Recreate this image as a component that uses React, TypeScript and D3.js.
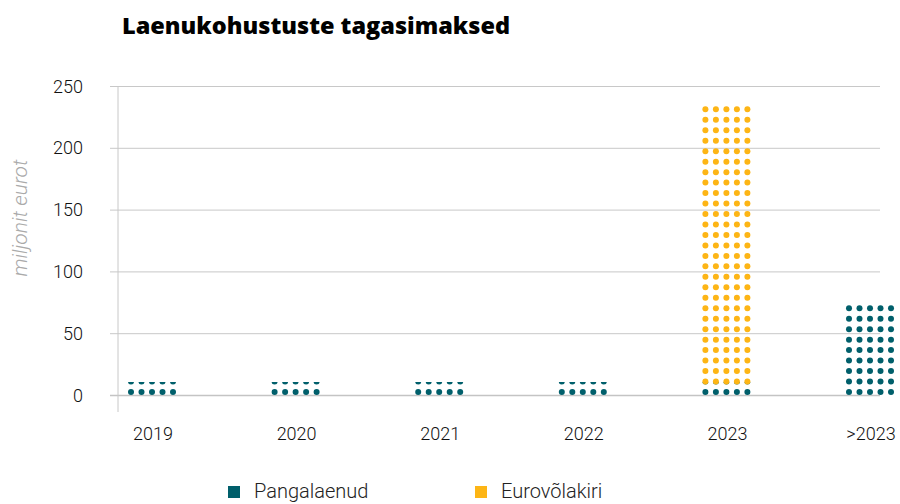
import React from "react";
import * as d3 from "d3";

const categories = ["2019", "2020", "2021", "2022", "2023", ">2023"];
const pangalaenud = [11, 11, 11, 11, 11, 76];
const eurovolakiri = [0, 0, 0, 0, 225, 0];
const yTicks = [0, 50, 100, 150, 200, 250];
const seriesNames = ["Pangalaenud", "Eurovõlakiri"];
const colors = ["#005f6b", "#fdb515"];

const W = 900;
const H = 504;

export default function App() {
  const x = d3.scalePoint<string>().domain(categories).range([152, 870]);
  const y = d3.scaleLinear().domain([0, 250]).range([395.5, 86.5]);

  const stack = d3
    .stack<any>()
    .keys(["p", "e"])(categories.map((c, i) => ({ c, p: pangalaenud[i], e: eurovolakiri[i] })));

  const r = 3;
  const dx = 10.5;
  const dy = 10.47;
  const halfW = 27;
  const base = y(0) - 3.5;

  const segs: any[] = [];
  stack.forEach((layer, si) => {
    layer.forEach((d, ci) => {
      if (d[1] - d[0] <= 0) return;
      const cx = x(categories[ci])!;
      const top = y(d[1]);
      const bottom = y(d[0]);
      const clipBottom = si > 0 ? bottom + r + 1 : bottom;
      const dots: [number, number][] = [];
      for (let k = 0; k < 60; k++) {
        const cy = base - k * dy;
        if (cy - r > clipBottom) continue;
        if (cy + r < top) break;
        for (let j = -2; j <= 2; j++) dots.push([cx + j * dx, cy]);
      }
      segs.push({ id: `clip-${si}-${ci}`, si, cx, top, clipBottom, dots });
    });
  });

  const font = "Roboto, 'Open Sans', sans-serif";

  return (
    <svg width={W} height={H} style={{ position: "absolute", left: 0, top: 0, background: "#fff" }}>
      <defs>
        {segs.map((s) => (
          <clipPath id={s.id} key={s.id}>
            <rect x={s.cx - halfW} y={s.top} width={halfW * 2} height={s.clipBottom - s.top} />
          </clipPath>
        ))}
      </defs>
      <text x={122} y={34} fontFamily="'Open Sans', sans-serif" fontWeight={800} fontSize={23.5} fill="#000">
        Laenukohustuste tagasimaksed
      </text>
      {yTicks.map((t) => (
        <g key={t}>
          <line x1={110} x2={880} y1={y(t)} y2={y(t)} stroke={t === 0 ? "#c4c4c4" : "#c8c8c8"} strokeWidth={t === 0 ? 1.5 : 1} />
          <text x={83} y={y(t) + 6} textAnchor="end" fontFamily={font} fontWeight={300} fontSize={18} fill="#111">
            {t}
          </text>
        </g>
      ))}
      <line x1={118} x2={118} y1={86} y2={412} stroke="#c8c8c8" strokeWidth={1} />
      <text
        transform={`translate(27,218) rotate(-90)`}
        textAnchor="middle"
        fontFamily={font}
        fontStyle="italic"
        fontWeight={300}
        fontSize={21}
        fill="#aaaaaa"
      >
        miljonit eurot
      </text>
      {segs.map((s) => (
        <g key={s.id} clipPath={`url(#${s.id})`}>
          {s.dots.map((d: [number, number], i: number) => (
            <circle key={i} cx={d[0]} cy={d[1]} r={r} fill={colors[s.si]} />
          ))}
        </g>
      ))}
      {categories.map((c) => (
        <text key={c} x={x(c)! + 1} y={440} textAnchor="middle" fontFamily={font} fontWeight={300} fontSize={18} fill="#111">
          {c}
        </text>
      ))}
      {seriesNames.map((n, i) => (
        <g key={n} transform={`translate(${[228, 475][i]},0)`}>
          <rect x={0} y={486} width={12} height={12} fill={colors[i]} />
          <text x={26} y={498} fontFamily={font} fontWeight={300} fontSize={20} fill="#222">
            {n}
          </text>
        </g>
      ))}
    </svg>
  );
}
